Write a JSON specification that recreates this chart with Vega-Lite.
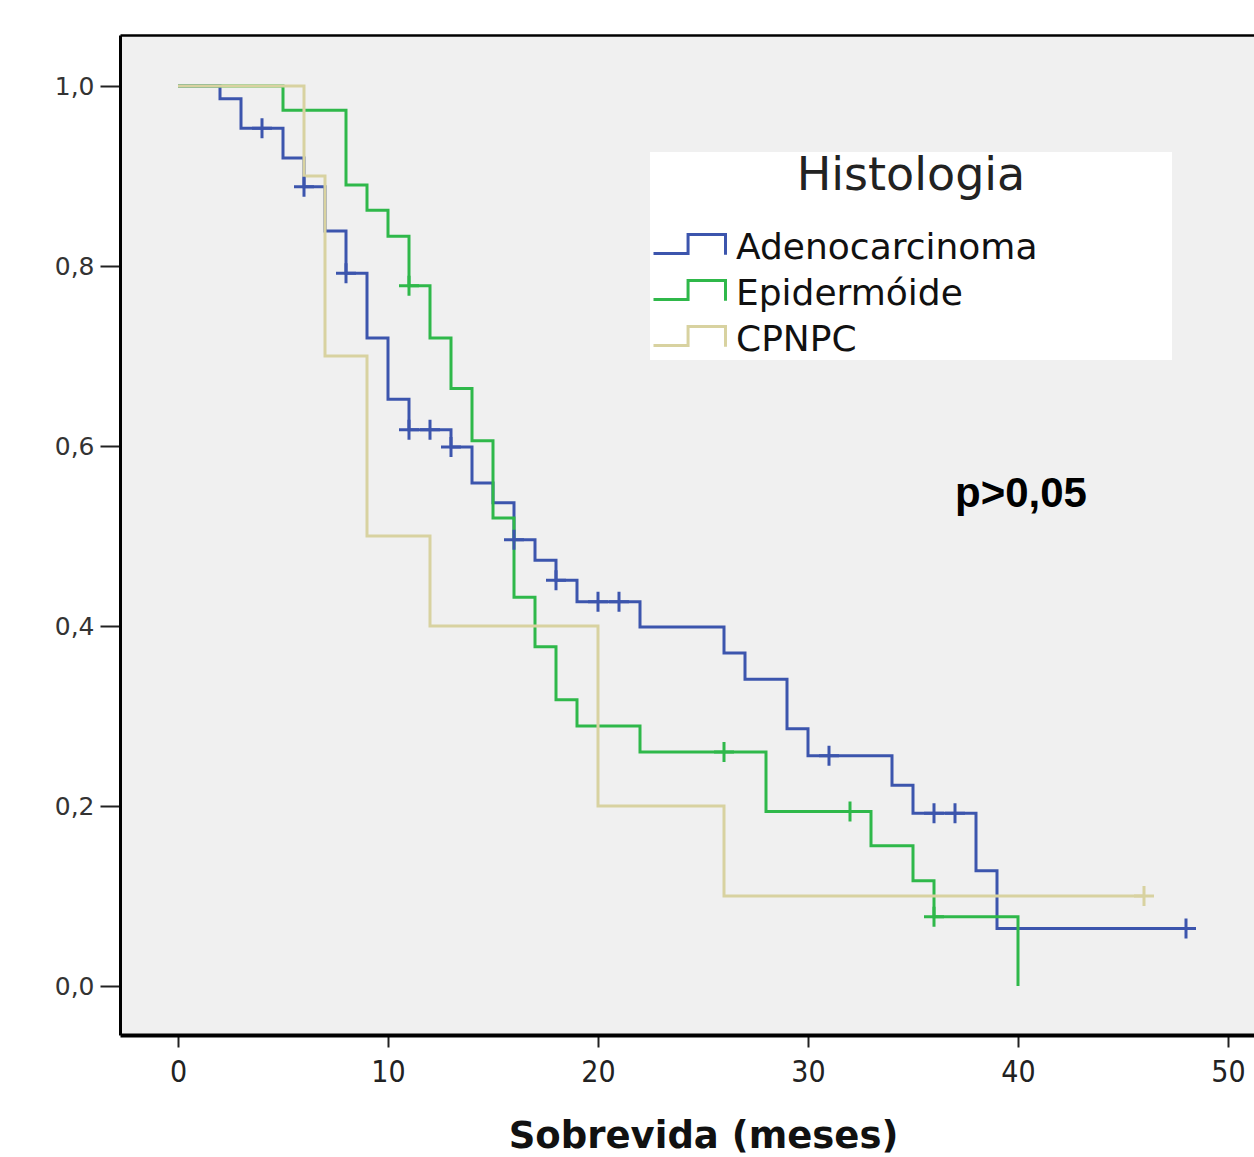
{
  "$schema": "https://vega.github.io/schema/vega-lite/v6.json",
  "width": 1134,
  "height": 1000,
  "autosize": {"type": "none"},
  "padding": {"left": 120, "top": 35, "right": 0, "bottom": 122},
  "background": "white",
  "config": {
    "view": {"fill": "#f0f0f0", "stroke": null}
  },
  "datasets": {
    "km": [
      {"grupo": "Adenocarcinoma", "t": 0, "s": 1.0, "c": 0},
      {"grupo": "Adenocarcinoma", "t": 2, "s": 0.986, "c": 0},
      {"grupo": "Adenocarcinoma", "t": 3, "s": 0.953, "c": 0},
      {"grupo": "Adenocarcinoma", "t": 4, "s": 0.953, "c": 1},
      {"grupo": "Adenocarcinoma", "t": 5, "s": 0.92, "c": 0},
      {"grupo": "Adenocarcinoma", "t": 6, "s": 0.888, "c": 0},
      {"grupo": "Adenocarcinoma", "t": 6, "s": 0.888, "c": 1},
      {"grupo": "Adenocarcinoma", "t": 7, "s": 0.839, "c": 0},
      {"grupo": "Adenocarcinoma", "t": 8, "s": 0.792, "c": 0},
      {"grupo": "Adenocarcinoma", "t": 8, "s": 0.792, "c": 1},
      {"grupo": "Adenocarcinoma", "t": 9, "s": 0.72, "c": 0},
      {"grupo": "Adenocarcinoma", "t": 10, "s": 0.652, "c": 0},
      {"grupo": "Adenocarcinoma", "t": 11, "s": 0.618, "c": 0},
      {"grupo": "Adenocarcinoma", "t": 11, "s": 0.618, "c": 1},
      {"grupo": "Adenocarcinoma", "t": 12, "s": 0.618, "c": 1},
      {"grupo": "Adenocarcinoma", "t": 13, "s": 0.599, "c": 0},
      {"grupo": "Adenocarcinoma", "t": 13, "s": 0.599, "c": 1},
      {"grupo": "Adenocarcinoma", "t": 14, "s": 0.559, "c": 0},
      {"grupo": "Adenocarcinoma", "t": 15, "s": 0.537, "c": 0},
      {"grupo": "Adenocarcinoma", "t": 16, "s": 0.496, "c": 0},
      {"grupo": "Adenocarcinoma", "t": 16, "s": 0.496, "c": 1},
      {"grupo": "Adenocarcinoma", "t": 17, "s": 0.473, "c": 0},
      {"grupo": "Adenocarcinoma", "t": 18, "s": 0.451, "c": 0},
      {"grupo": "Adenocarcinoma", "t": 18, "s": 0.451, "c": 1},
      {"grupo": "Adenocarcinoma", "t": 19, "s": 0.427, "c": 0},
      {"grupo": "Adenocarcinoma", "t": 20, "s": 0.427, "c": 1},
      {"grupo": "Adenocarcinoma", "t": 21, "s": 0.427, "c": 1},
      {"grupo": "Adenocarcinoma", "t": 22, "s": 0.399, "c": 0},
      {"grupo": "Adenocarcinoma", "t": 26, "s": 0.37, "c": 0},
      {"grupo": "Adenocarcinoma", "t": 27, "s": 0.341, "c": 0},
      {"grupo": "Adenocarcinoma", "t": 29, "s": 0.286, "c": 0},
      {"grupo": "Adenocarcinoma", "t": 30, "s": 0.256, "c": 0},
      {"grupo": "Adenocarcinoma", "t": 31, "s": 0.256, "c": 1},
      {"grupo": "Adenocarcinoma", "t": 34, "s": 0.223, "c": 0},
      {"grupo": "Adenocarcinoma", "t": 35, "s": 0.192, "c": 0},
      {"grupo": "Adenocarcinoma", "t": 36, "s": 0.192, "c": 1},
      {"grupo": "Adenocarcinoma", "t": 37, "s": 0.192, "c": 1},
      {"grupo": "Adenocarcinoma", "t": 38, "s": 0.128, "c": 0},
      {"grupo": "Adenocarcinoma", "t": 39, "s": 0.064, "c": 0},
      {"grupo": "Adenocarcinoma", "t": 48, "s": 0.064, "c": 1},
      {"grupo": "Epidermóide", "t": 0, "s": 1.0, "c": 0},
      {"grupo": "Epidermóide", "t": 5, "s": 0.973, "c": 0},
      {"grupo": "Epidermóide", "t": 8, "s": 0.89, "c": 0},
      {"grupo": "Epidermóide", "t": 9, "s": 0.862, "c": 0},
      {"grupo": "Epidermóide", "t": 10, "s": 0.833, "c": 0},
      {"grupo": "Epidermóide", "t": 11, "s": 0.778, "c": 0},
      {"grupo": "Epidermóide", "t": 11, "s": 0.778, "c": 1},
      {"grupo": "Epidermóide", "t": 12, "s": 0.72, "c": 0},
      {"grupo": "Epidermóide", "t": 13, "s": 0.664, "c": 0},
      {"grupo": "Epidermóide", "t": 14, "s": 0.606, "c": 0},
      {"grupo": "Epidermóide", "t": 15, "s": 0.52, "c": 0},
      {"grupo": "Epidermóide", "t": 16, "s": 0.432, "c": 0},
      {"grupo": "Epidermóide", "t": 17, "s": 0.377, "c": 0},
      {"grupo": "Epidermóide", "t": 18, "s": 0.318, "c": 0},
      {"grupo": "Epidermóide", "t": 19, "s": 0.289, "c": 0},
      {"grupo": "Epidermóide", "t": 22, "s": 0.26, "c": 0},
      {"grupo": "Epidermóide", "t": 26, "s": 0.26, "c": 1},
      {"grupo": "Epidermóide", "t": 28, "s": 0.194, "c": 0},
      {"grupo": "Epidermóide", "t": 32, "s": 0.194, "c": 1},
      {"grupo": "Epidermóide", "t": 33, "s": 0.156, "c": 0},
      {"grupo": "Epidermóide", "t": 35, "s": 0.117, "c": 0},
      {"grupo": "Epidermóide", "t": 36, "s": 0.077, "c": 0},
      {"grupo": "Epidermóide", "t": 36, "s": 0.077, "c": 1},
      {"grupo": "Epidermóide", "t": 40, "s": 0.0, "c": 0},
      {"grupo": "CPNPC", "t": 0, "s": 1.0, "c": 0},
      {"grupo": "CPNPC", "t": 6, "s": 0.9, "c": 0},
      {"grupo": "CPNPC", "t": 7, "s": 0.7, "c": 0},
      {"grupo": "CPNPC", "t": 9, "s": 0.5, "c": 0},
      {"grupo": "CPNPC", "t": 12, "s": 0.4, "c": 0},
      {"grupo": "CPNPC", "t": 20, "s": 0.2, "c": 0},
      {"grupo": "CPNPC", "t": 26, "s": 0.1, "c": 0},
      {"grupo": "CPNPC", "t": 46, "s": 0.1, "c": 1}
    ]
  },
  "resolve": {"axis": {"x": "independent"}},
  "layer": [
    {
      "data": {"name": "km"},
      "mark": {"type": "line", "interpolate": "step-after", "strokeWidth": 3},
      "encoding": {
        "x": {
          "field": "t", "type": "quantitative",
          "scale": {"domain": [-2.762, 51.238], "nice": false, "zero": false},
          "axis": {
            "orient": "bottom", "values": [0, 10, 20, 30, 40, 50], "grid": false,
            "title": "Sobrevida (meses)",
            "domainColor": "#000", "domainWidth": 4,
            "tickColor": "#222", "tickSize": 12, "tickWidth": 2,
            "labelFont": "DejaVu Sans Condensed", "labelFontSize": 30, "labelColor": "#222", "labelPadding": 10,
            "titleFont": "DejaVu Sans", "titleFontSize": 37, "titleFontWeight": "bold", "titleColor": "#111",
            "titleX": 583, "titleY": 112, "titleAlign": "center", "titleBaseline": "alphabetic", "titleAnchor": null
          }
        },
        "y": {
          "field": "s", "type": "quantitative",
          "scale": {"domain": [-0.0544, 1.0567], "nice": false, "zero": false},
          "axis": {
            "values": [0, 0.2, 0.4, 0.6, 0.8, 1.0], "grid": false, "title": null,
            "labelExpr": "replace(format(datum.value, '.1f'), '.', ',')",
            "domainColor": "#000", "domainWidth": 3,
            "tickColor": "#222", "tickSize": 20, "tickWidth": 2,
            "labelFont": "DejaVu Sans", "labelFontSize": 25, "labelColor": "#333", "labelPadding": 6
          }
        },
        "color": {
          "field": "grupo", "type": "nominal",
          "scale": {"domain": ["Adenocarcinoma", "Epidermóide", "CPNPC"], "range": ["#3c55ad", "#2fb84a", "#d8d2a0"]},
          "legend": {
            "title": "Histologia",
            "orient": "none", "legendX": 530, "legendY": 117,
            "fillColor": "white", "padding": 2,
            "titleFont": "DejaVu Sans", "titleFontSize": 46, "titleFontWeight": "normal", "titleColor": "#222",
            "titleAnchor": "middle", "titlePadding": 28, "titleLimit": 0,
            "labelFont": "DejaVu Sans", "labelFontSize": 36, "labelColor": "#111", "labelOffset": 45, "labelLimit": 0,
            "labelExpr": "datum.label + '\u2800\u2800\u2800\u2800\u2800'",
            "symbolType": "M-1,0.34 H0.92 V-0.72 H3 V0.4",
            "symbolSize": 1296, "symbolStrokeWidth": 3, "symbolFillColor": "transparent",
            "rowPadding": 8
          }
        }
      }
    },
    {
      "data": {"name": "km"},
      "transform": [{"filter": "datum.c == 1"}],
      "mark": {"type": "point", "shape": "M-1,0 H1 M0,-1 V1", "filled": false, "strokeWidth": 3, "size": 400, "opacity": 1},
      "encoding": {
        "x": {
          "field": "t", "type": "quantitative",
          "axis": {"orient": "top", "labels": false, "ticks": false, "title": null, "grid": false, "domainColor": "#000", "domainWidth": 2.5}
        },
        "y": {"field": "s", "type": "quantitative", "title": null},
        "color": {"field": "grupo", "type": "nominal", "legend": null}
      }
    },
    {
      "data": {"values": [{"rotulo": "p>0,05"}]},
      "mark": {"type": "text", "font": "Liberation Sans", "fontSize": 42, "fontWeight": "bold", "color": "#000", "align": "center", "baseline": "alphabetic"},
      "encoding": {
        "x": {"datum": 40.14, "type": "quantitative", "axis": null},
        "y": {"datum": 0.532, "type": "quantitative", "title": null},
        "text": {"field": "rotulo"}
      }
    }
  ]
}
